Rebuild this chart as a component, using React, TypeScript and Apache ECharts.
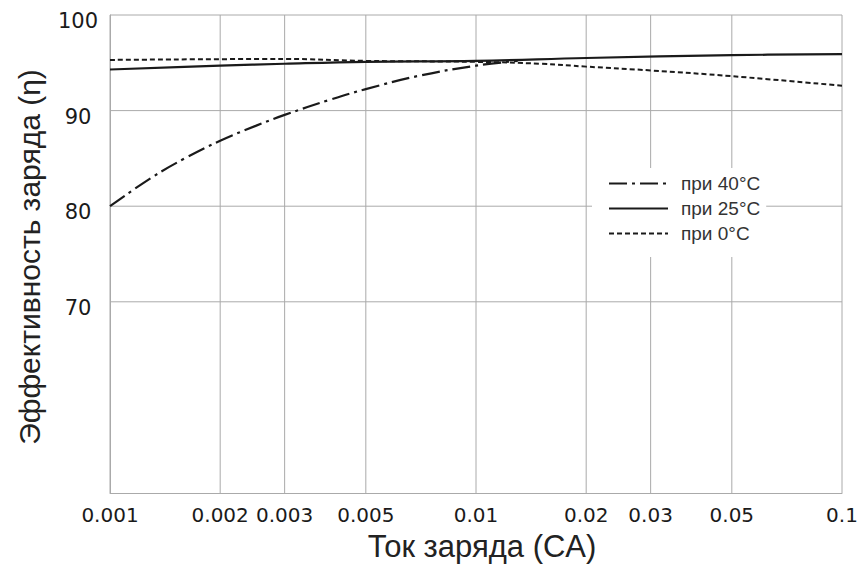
import React, { useEffect, useRef } from "react";
import * as echarts from "echarts";

const xTicks = [0.001, 0.002, 0.003, 0.005, 0.01, 0.02, 0.03, 0.05, 0.1];
const yTicks = [70, 80, 90, 100];

const x40 = [0.001, 0.0013, 0.0016, 0.002, 0.0025, 0.003, 0.004, 0.005, 0.007, 0.01, 0.013];
const y40 = [80, 83.0, 85.0, 86.85, 88.4, 89.55, 91.15, 92.25, 93.65, 94.7, 95.2];

const x25 = [0.001, 0.002, 0.003, 0.005, 0.01, 0.02, 0.05, 0.1];
const y25 = [94.3, 94.7, 94.9, 95.1, 95.2, 95.5, 95.8, 95.9];

const x0 = [0.001, 0.003, 0.005, 0.01, 0.015, 0.02, 0.03, 0.05, 0.1];
const y0 = [95.3, 95.4, 95.2, 95.1, 94.9, 94.6, 94.2, 93.6, 92.6];

const names = ["при 40°C", "при 25°C", "при 0°C"];
const xTitle = "Ток заряда (CA)";
const yTitle = "Эффективность заряда (η)";

const zip = (xs: number[], ys: number[]) => xs.map((x, i) => [x, ys[i]]);

export default function App() {
  const ref = useRef<HTMLDivElement>(null);
  useEffect(() => {
    if (!ref.current) return;
    const chart = echarts.init(ref.current, undefined, { renderer: "svg" });
    const gridColor = "#aaaaaa";
    const lineColor = "#1a1a1a";
    const tickFont = { fontFamily: "DejaVu Sans", fontSize: 20, color: "#1a1a1a" };
    chart.setOption({
      animation: false,
      backgroundColor: "#ffffff",
      grid: { left: 110, right: 22, top: 15, bottom: 71 },
      legend: {
        orient: "vertical",
        left: 592,
        top: 168,
        padding: [6, 6, 14, 16],
        itemWidth: 59,
        itemHeight: 19,
        itemGap: 6,
        backgroundColor: "#ffffff",
        data: names,
        itemStyle: { opacity: 0 },
        textStyle: {
          fontFamily: "Liberation Sans",
          fontSize: 19,
          color: "#333",
          padding: [0, 0, 0, 8],
        },
      },
      graphic: [
        {
          type: "text",
          x: 482,
          y: 546,
          style: {
            text: xTitle,
            fontFamily: "Liberation Sans",
            fontSize: 31,
            fill: "#222",
            textAlign: "center",
            textVerticalAlign: "middle",
          },
        },
        {
          type: "text",
          x: 29,
          y: 257,
          rotation: Math.PI / 2,
          style: {
            text: yTitle,
            fontFamily: "Liberation Sans",
            fontSize: 30,
            fill: "#222",
            textAlign: "center",
            textVerticalAlign: "middle",
          },
        },
      ],
      xAxis: {
        type: "log",
        logBase: 10,
        min: 0.001,
        max: 0.1,
        axisLine: { show: true, lineStyle: { color: gridColor, width: 1 } },
        axisTick: { show: false },
        axisLabel: { show: false },
        splitLine: { show: false },
        minorSplitLine: { show: false },
      },
      yAxis: {
        type: "value",
        min: 50,
        max: 100,
        interval: 10,
        axisLine: { show: true, lineStyle: { color: gridColor, width: 1 } },
        axisTick: { show: false },
        splitLine: { show: false },
        axisLabel: {
          margin: 32,
          align: "center",
          verticalAlign: "top",
          lineHeight: 12,
          fontFamily: tickFont.fontFamily,
          fontSize: 21,
          color: tickFont.color,
          formatter: (v: number) => (yTicks.includes(v) ? String(v) : ""),
        },
      },
      series: [
        {
          type: "custom",
          silent: true,
          clip: false,
          z: 1,
          data: xTicks.map((v) => [v, 100]),
          renderItem: (params: any, api: any) => {
            const v = api.value(0);
            const top = api.coord([v, 100]);
            const bot = api.coord([v, 50]);
            return {
              type: "group",
              children: [
                {
                  type: "line",
                  shape: { x1: top[0], y1: top[1], x2: bot[0], y2: bot[1] },
                  style: { stroke: gridColor, lineWidth: 1 },
                },
                {
                  type: "text",
                  x: bot[0],
                  y: bot[1] + 22,
                  style: {
                    text: String(v),
                    textAlign: "center",
                    textVerticalAlign: "middle",
                    fontFamily: tickFont.fontFamily,
                    fontSize: tickFont.fontSize,
                    fill: tickFont.color,
                  },
                },
              ],
            };
          },
        },
        {
          type: "custom",
          silent: true,
          clip: false,
          z: 1,
          data: yTicks.map((v) => [0.001, v]),
          renderItem: (params: any, api: any) => {
            const v = api.value(1);
            const a = api.coord([0.001, v]);
            const b = api.coord([0.1, v]);
            return {
              type: "line",
              shape: { x1: a[0], y1: a[1], x2: b[0], y2: b[1] },
              style: { stroke: gridColor, lineWidth: 1 },
            };
          },
        },
        {
          name: names[0],
          type: "line",
          smooth: 0.4,
          symbol: "none",
          data: zip(x40, y40),
          color: lineColor,
          lineStyle: { color: lineColor, width: 2.2, type: [18, 5, 3, 5] },
          z: 5,
        },
        {
          name: names[1],
          type: "line",
          smooth: 0.4,
          symbol: "none",
          data: zip(x25, y25),
          color: lineColor,
          lineStyle: { color: lineColor, width: 2.2, type: "solid" },
          z: 5,
        },
        {
          name: names[2],
          type: "line",
          smooth: 0.4,
          symbol: "none",
          data: zip(x0, y0),
          color: lineColor,
          lineStyle: { color: lineColor, width: 2, type: [5, 3] },
          z: 5,
        },
      ],
    });
    return () => chart.dispose();
  }, []);
  return <div ref={ref} style={{ width: 864, height: 564, position: "absolute", left: 0, top: 0 }} />;
}
